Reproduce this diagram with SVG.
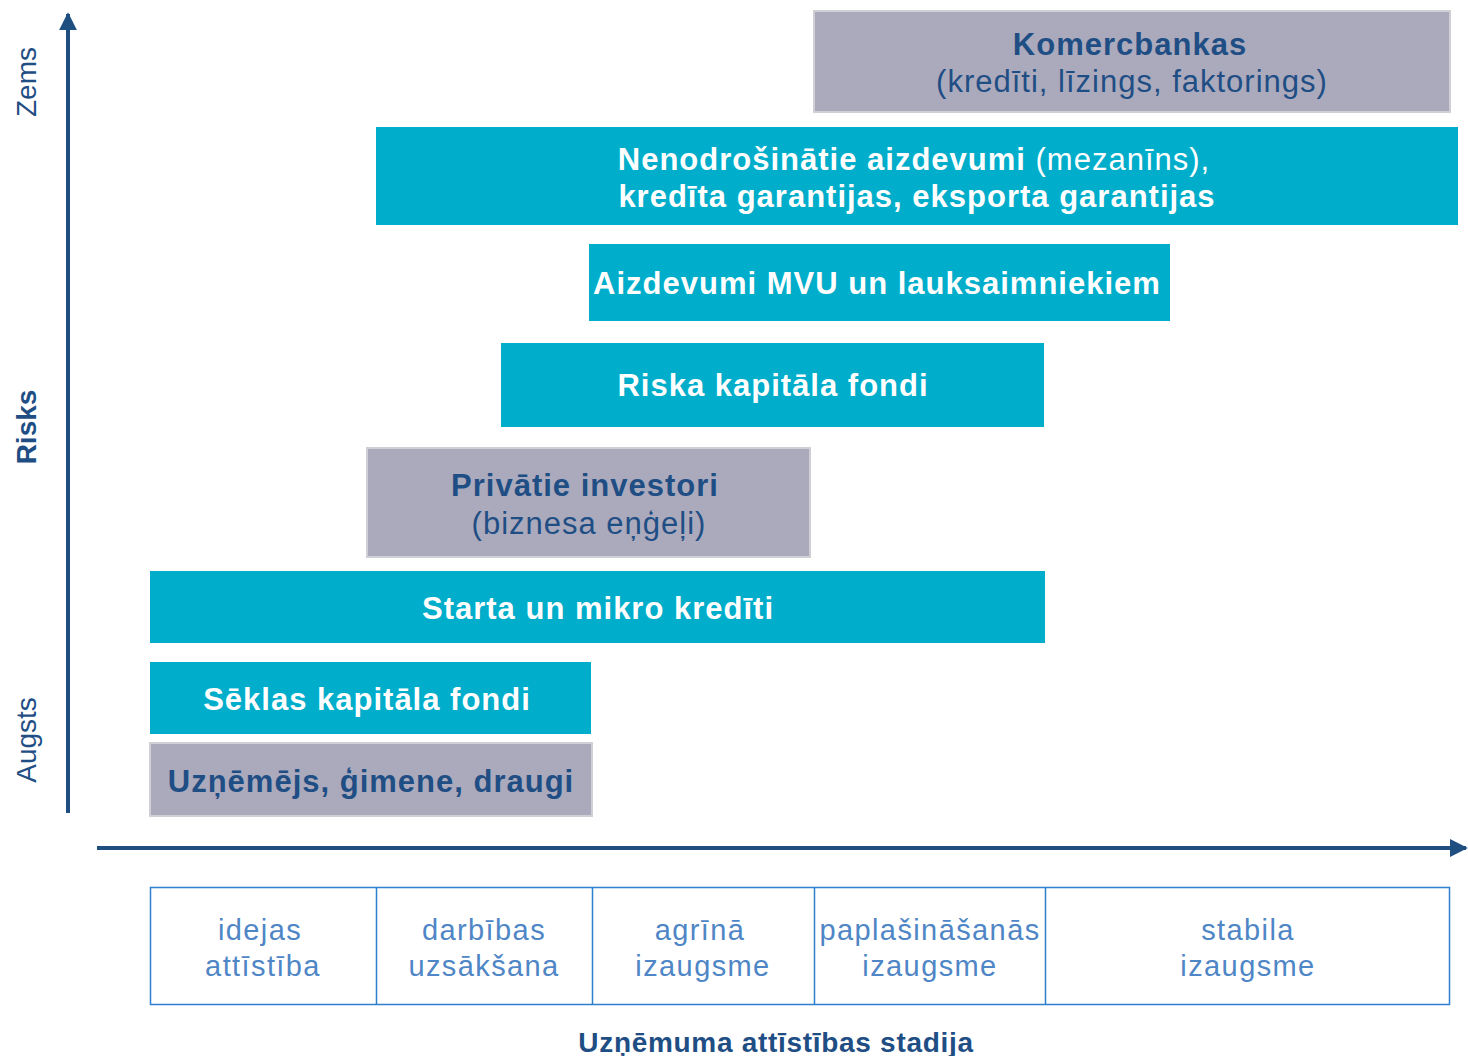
<svg xmlns="http://www.w3.org/2000/svg" width="1468" height="1056" viewBox="0 0 1468 1056">
<style>
.teal{fill:#00ADCA}
.gray{fill:#ABAABC;stroke:#CFCFD6;stroke-width:2}
.bw{font-family:"Liberation Sans",Arial,sans-serif;font-weight:bold;font-size:31px;letter-spacing:1px;fill:#FFFFFF;text-anchor:middle}
.bd{font-family:"Liberation Sans",Arial,sans-serif;font-weight:bold;font-size:31px;letter-spacing:1px;fill:#1F4E85;text-anchor:middle}
.rd{font-family:"Liberation Sans",Arial,sans-serif;font-weight:normal;font-size:31px;letter-spacing:1px;fill:#1F4E85;text-anchor:middle}
.rn{font-weight:normal}
.ax{font-family:"Liberation Sans",Arial,sans-serif;font-size:28px;fill:#1F4E85;text-anchor:middle}
.st{font-family:"Liberation Sans",Arial,sans-serif;font-size:29px;letter-spacing:1.4px;fill:#4F86C6;text-anchor:middle}
.cell{fill:none;stroke:#2E7FCF;stroke-width:1.5}
.axis{stroke:#1F4E80;stroke-width:4;fill:none}
</style>
<defs>
<marker id="ah" viewBox="0 0 10 10" refX="9" refY="5" markerWidth="4.5" markerHeight="4.5" markerUnits="strokeWidth" orient="auto">
<path d="M0,0 L10,5 L0,10 Z" fill="#1F4E80"/>
</marker>
</defs>
<g id="connectors">
<line class="axis" x1="68" y1="813" x2="68" y2="14" marker-end="url(#ah)"/>
<line class="axis" x1="97" y1="848" x2="1466" y2="848" marker-end="url(#ah)"/>
</g>
<g id="axis-labels">
<text class="ax" transform="translate(36,82) rotate(-90)">Zems</text>
<text class="ax" font-weight="bold" font-size="27" transform="translate(36,427) rotate(-90)">Risks</text>
<text class="ax" transform="translate(36,740) rotate(-90)">Augsts</text>
<text class="ax" font-weight="bold" letter-spacing="0.7" x="776" y="1052">Uzņēmuma attīstības stadija</text>
</g>
<g id="komercbankas">
<rect class="gray" x="814" y="11" width="636" height="101"/>
<text class="bd" x="1130" y="55">Komercbankas</text>
<text class="rd" x="1132" y="92">(kredīti, līzings, faktorings)</text>
</g>
<g id="nenodrosinatie">
<rect class="teal" x="376" y="127" width="1082" height="98"/>
<text class="bw" x="914" y="170">Nenodrošinātie aizdevumi<tspan class="rn"> (mezanīns),</tspan></text>
<text class="bw" x="917" y="207">kredīta garantijas, eksporta garantijas</text>
</g>
<g id="aizdevumi-mvu">
<rect class="teal" x="589" y="244" width="581" height="77"/>
<text class="bw" x="877" y="294">Aizdevumi MVU un lauksaimniekiem</text>
</g>
<g id="riska-kapitala">
<rect class="teal" x="501" y="343" width="543" height="84"/>
<text class="bw" x="773" y="396">Riska kapitāla fondi</text>
</g>
<g id="privatie-investori">
<rect class="gray" x="367" y="448" width="443" height="109"/>
<text class="bd" x="585" y="496">Privātie investori</text>
<text class="rd" x="589" y="534">(biznesa eņģeļi)</text>
</g>
<g id="starta-mikro">
<rect class="teal" x="150" y="571" width="895" height="72"/>
<text class="bw" x="598" y="619">Starta un mikro kredīti</text>
</g>
<g id="seklas">
<rect class="teal" x="150" y="662" width="441" height="72"/>
<text class="bw" x="367" y="710">Sēklas kapitāla fondi</text>
</g>
<g id="uznemejs">
<rect class="gray" x="150" y="743" width="442" height="73"/>
<text class="bd" x="371" y="792">Uzņēmējs, ģimene, draugi</text>
</g>
<g id="stages">
<rect class="cell" x="150.5" y="887.5" width="1299" height="117"/>
<line class="cell" x1="376.5" y1="887.5" x2="376.5" y2="1004.5"/>
<line class="cell" x1="592.5" y1="887.5" x2="592.5" y2="1004.5"/>
<line class="cell" x1="814.5" y1="887.5" x2="814.5" y2="1004.5"/>
<line class="cell" x1="1045.5" y1="887.5" x2="1045.5" y2="1004.5"/>
<text class="st" x="260" y="940">idejas</text>
<text class="st" x="263" y="976">attīstība</text>
<text class="st" x="484" y="940">darbības</text>
<text class="st" x="484" y="976">uzsākšana</text>
<text class="st" x="700" y="940">agrīnā</text>
<text class="st" x="703" y="976">izaugsme</text>
<text class="st" x="930" y="940">paplašināšanās</text>
<text class="st" x="930" y="976">izaugsme</text>
<text class="st" x="1248" y="940">stabila</text>
<text class="st" x="1248" y="976">izaugsme</text>
</g>
</svg>
